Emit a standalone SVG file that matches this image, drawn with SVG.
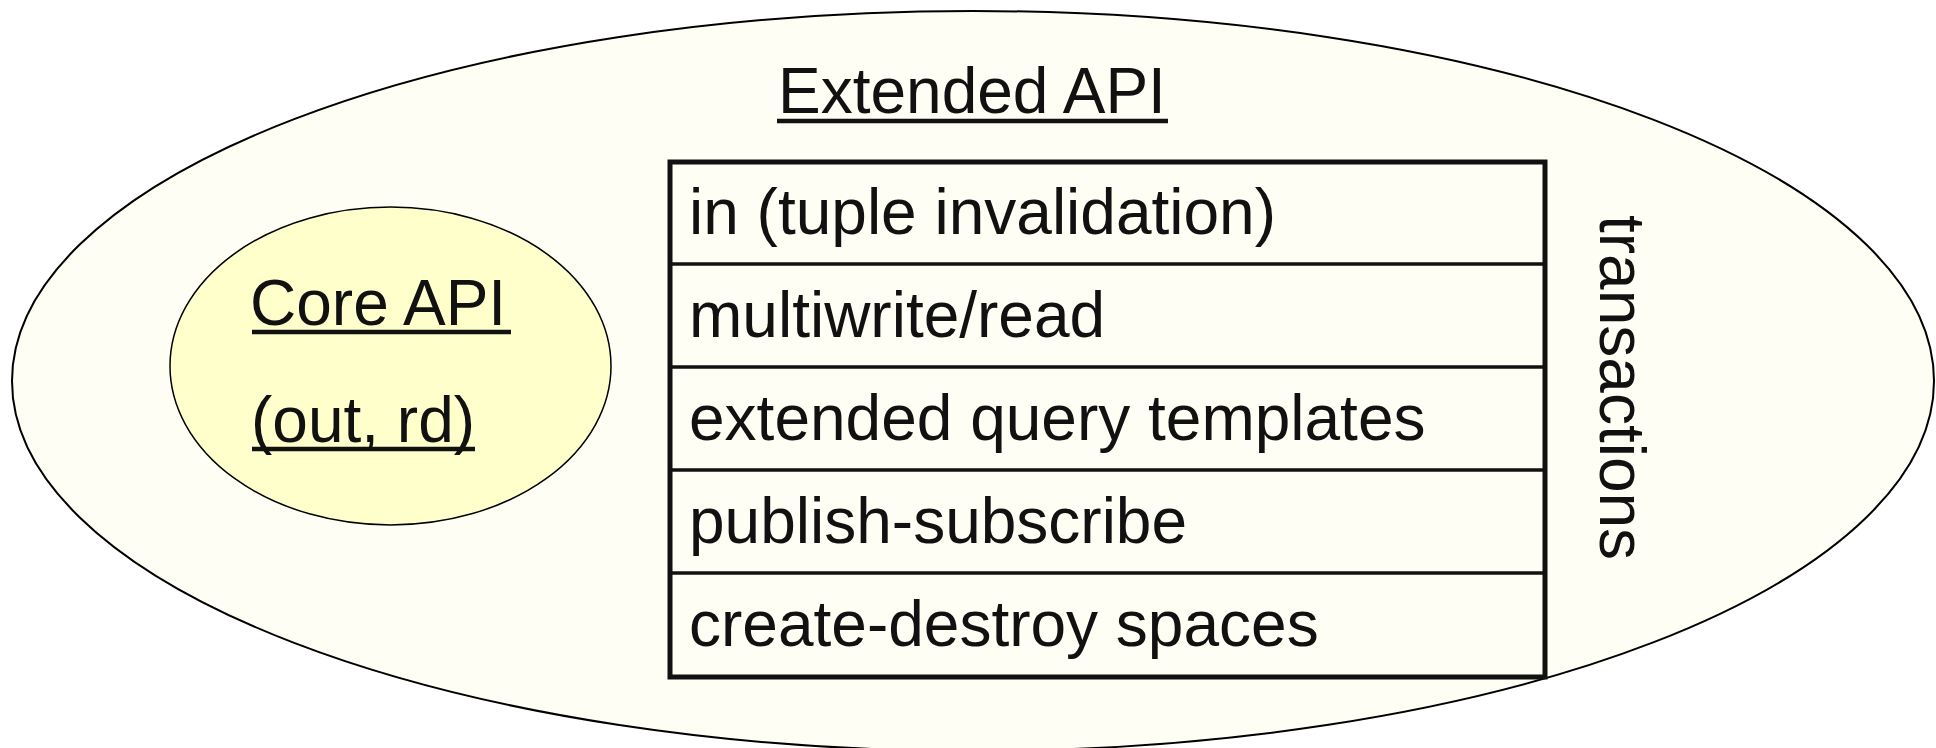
<svg xmlns="http://www.w3.org/2000/svg" width="1936" height="748" viewBox="0 0 1936 748">
<style>
text{font-family:"Liberation Sans",Arial,sans-serif;font-size:64px;fill:#111}
.ul{stroke:#111;stroke-width:4.5}
.row{fill:none;stroke:#111;stroke-width:3.5}
</style>
<rect width="1936" height="748" fill="#fff"/>
<g id="extended">
<ellipse cx="973" cy="381" rx="961" ry="370" fill="#fefef4" stroke="#000" stroke-width="2"/>
<text x="778" y="113">Extended API</text>
<line class="ul" x1="777" y1="121" x2="1168" y2="121"/>
</g>
<g id="core">
<ellipse cx="390.5" cy="366" rx="220.5" ry="159" fill="#ffffcc" stroke="#000" stroke-width="1.5"/>
<text x="250" y="325">Core API</text>
<line class="ul" x1="252" y1="332" x2="511" y2="332"/>
<text x="251" y="442">(out, rd)</text>
<line class="ul" x1="252" y1="449" x2="475" y2="449"/>
</g>
<g id="table">
<rect x="670" y="162" width="875" height="515" fill="#fefef4" stroke="#111" stroke-width="5"/>
<line class="row" x1="670" y1="264" x2="1545" y2="264"/>
<line class="row" x1="670" y1="367" x2="1545" y2="367"/>
<line class="row" x1="670" y1="470" x2="1545" y2="470"/>
<line class="row" x1="670" y1="573" x2="1545" y2="573"/>
<text x="689" y="234">in (tuple invalidation)</text>
<text x="689" y="337">multiwrite/read</text>
<text x="689" y="440">extended query templates</text>
<text x="689" y="543">publish-subscribe</text>
<text x="689" y="646">create-destroy spaces</text>
</g>
<g id="transactions">
<text x="1600" y="215" transform="rotate(90 1600 215)">transactions</text>
</g>
<g id="connectors"></g>
</svg>
